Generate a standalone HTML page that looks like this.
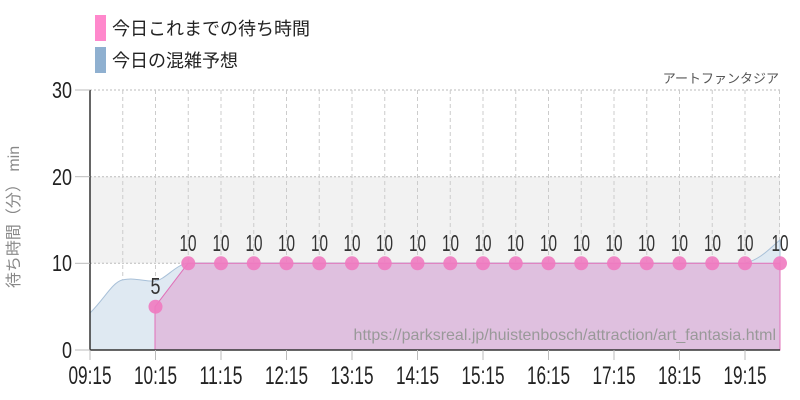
<!DOCTYPE html>
<html><head><meta charset="utf-8"><style>
html,body{margin:0;padding:0;background:#fff;width:800px;height:400px;overflow:hidden}
svg{display:block}
.n{font-family:"Liberation Sans",sans-serif}
.j{font-family:"Liberation Sans","Noto Sans CJK JP",sans-serif}
</style></head><body>
<svg width="800" height="400" viewBox="0 0 800 400" xmlns="http://www.w3.org/2000/svg">
<rect x="95" y="15" width="11" height="26" fill="#ff88cc"/>
<rect x="95" y="47" width="11" height="26" fill="#8fb0d0"/>
<text class="j" x="112" y="35" font-size="18" fill="#222">今日これまでの待ち時間</text>
<text class="j" x="112" y="67" font-size="18" fill="#222">今日の混雑予想</text>
<text class="j" x="779" y="83" font-size="13" fill="#555" text-anchor="end">アートファンタジア</text>
<rect x="90" y="176.7" width="690" height="86.6" fill="#f2f2f2"/>
<g stroke="#bbb" stroke-width="1" stroke-dasharray="2,2">
<line x1="90" y1="90" x2="780" y2="90"/>
<line x1="90" y1="176.7" x2="780" y2="176.7"/>
<line x1="90" y1="263.3" x2="780" y2="263.3"/>
</g>
<g stroke="#ccc" stroke-width="1" stroke-dasharray="4,3">
<line x1="122.75" y1="90" x2="122.75" y2="350"/><line x1="155.5" y1="90" x2="155.5" y2="350"/><line x1="188.25" y1="90" x2="188.25" y2="350"/><line x1="221" y1="90" x2="221" y2="350"/><line x1="253.75" y1="90" x2="253.75" y2="350"/><line x1="286.5" y1="90" x2="286.5" y2="350"/><line x1="319.25" y1="90" x2="319.25" y2="350"/><line x1="352" y1="90" x2="352" y2="350"/><line x1="384.75" y1="90" x2="384.75" y2="350"/><line x1="417.5" y1="90" x2="417.5" y2="350"/><line x1="450.25" y1="90" x2="450.25" y2="350"/><line x1="483" y1="90" x2="483" y2="350"/><line x1="515.75" y1="90" x2="515.75" y2="350"/><line x1="548.5" y1="90" x2="548.5" y2="350"/><line x1="581.25" y1="90" x2="581.25" y2="350"/><line x1="614" y1="90" x2="614" y2="350"/><line x1="646.75" y1="90" x2="646.75" y2="350"/><line x1="679.5" y1="90" x2="679.5" y2="350"/><line x1="712.25" y1="90" x2="712.25" y2="350"/><line x1="745" y1="90" x2="745" y2="350"/><line x1="779.5" y1="90" x2="779.5" y2="350"/>
</g>
<path d="M90,313 C105,298 112,283 122,280 C135,277 145,282 155,281 C165,280 175,265 188,263 L745,263 C760,260 770,248 780,240 L780,350 L90,350 Z" fill="#dfe9f2" stroke="#a8c0d8" stroke-width="1"/>
<path d="M155,306.7 L188,263.3 L780,263.3 L780,350 L155,350 Z" fill="#dfc0df" stroke="#e070b8" stroke-width="1"/>
<line x1="90" y1="90" x2="90" y2="350" stroke="#333" stroke-width="1.5"/>
<line x1="90" y1="350" x2="780" y2="350" stroke="#333" stroke-width="1.5"/>
<g stroke="#bbb"><line x1="75" y1="90" x2="90" y2="90"/><line x1="75" y1="176.7" x2="90" y2="176.7"/><line x1="75" y1="263.3" x2="90" y2="263.3"/><line x1="75" y1="350" x2="90" y2="350"/>
<line x1="90" y1="350" x2="90" y2="360"/><line x1="155.5" y1="350" x2="155.5" y2="360"/><line x1="221" y1="350" x2="221" y2="360"/><line x1="286.5" y1="350" x2="286.5" y2="360"/><line x1="352" y1="350" x2="352" y2="360"/><line x1="417.5" y1="350" x2="417.5" y2="360"/><line x1="483" y1="350" x2="483" y2="360"/><line x1="548.5" y1="350" x2="548.5" y2="360"/><line x1="614" y1="350" x2="614" y2="360"/><line x1="679.5" y1="350" x2="679.5" y2="360"/><line x1="745" y1="350" x2="745" y2="360"/></g>
<g class="n" font-size="23" fill="#222">
<text x="52" y="98" textLength="20" lengthAdjust="spacingAndGlyphs">30</text>
<text x="52" y="185" textLength="20" lengthAdjust="spacingAndGlyphs">20</text>
<text x="52" y="271" textLength="20" lengthAdjust="spacingAndGlyphs">10</text>
<text x="62" y="358" textLength="10" lengthAdjust="spacingAndGlyphs">0</text>
</g>
<text class="j" font-size="16" fill="#888" transform="translate(19,217) rotate(-90)" text-anchor="middle">待ち時間（分） min</text>
<text class="j" x="776" y="340" font-size="16" fill="#999" text-anchor="end">https://parksreal.jp/huistenbosch/attraction/art_fantasia.html</text>
<g fill="#f07ac0" fill-opacity="0.9">
<circle cx="155.5" cy="306.7" r="7"/><circle cx="188.25" cy="263.3" r="7"/><circle cx="221" cy="263.3" r="7"/><circle cx="253.75" cy="263.3" r="7"/><circle cx="286.5" cy="263.3" r="7"/><circle cx="319.25" cy="263.3" r="7"/><circle cx="352" cy="263.3" r="7"/><circle cx="384.75" cy="263.3" r="7"/><circle cx="417.5" cy="263.3" r="7"/><circle cx="450.25" cy="263.3" r="7"/><circle cx="483" cy="263.3" r="7"/><circle cx="515.75" cy="263.3" r="7"/><circle cx="548.5" cy="263.3" r="7"/><circle cx="581.25" cy="263.3" r="7"/><circle cx="614" cy="263.3" r="7"/><circle cx="646.75" cy="263.3" r="7"/><circle cx="679.5" cy="263.3" r="7"/><circle cx="712.25" cy="263.3" r="7"/><circle cx="745" cy="263.3" r="7"/><circle cx="780" cy="263.3" r="7"/>
</g>
<g class="n" font-size="23" fill="#333">
<text x="150.5" y="294" textLength="10" lengthAdjust="spacingAndGlyphs">5</text>
<text x="179.5" y="251" textLength="17" lengthAdjust="spacingAndGlyphs">10</text>
<text x="212.5" y="251" textLength="17" lengthAdjust="spacingAndGlyphs">10</text>
<text x="245.5" y="251" textLength="17" lengthAdjust="spacingAndGlyphs">10</text>
<text x="278" y="251" textLength="17" lengthAdjust="spacingAndGlyphs">10</text>
<text x="311" y="251" textLength="17" lengthAdjust="spacingAndGlyphs">10</text>
<text x="343.5" y="251" textLength="17" lengthAdjust="spacingAndGlyphs">10</text>
<text x="376" y="251" textLength="17" lengthAdjust="spacingAndGlyphs">10</text>
<text x="409" y="251" textLength="17" lengthAdjust="spacingAndGlyphs">10</text>
<text x="442" y="251" textLength="17" lengthAdjust="spacingAndGlyphs">10</text>
<text x="474.5" y="251" textLength="17" lengthAdjust="spacingAndGlyphs">10</text>
<text x="507" y="251" textLength="17" lengthAdjust="spacingAndGlyphs">10</text>
<text x="540" y="251" textLength="17" lengthAdjust="spacingAndGlyphs">10</text>
<text x="573" y="251" textLength="17" lengthAdjust="spacingAndGlyphs">10</text>
<text x="605.5" y="251" textLength="17" lengthAdjust="spacingAndGlyphs">10</text>
<text x="638" y="251" textLength="17" lengthAdjust="spacingAndGlyphs">10</text>
<text x="671" y="251" textLength="17" lengthAdjust="spacingAndGlyphs">10</text>
<text x="704" y="251" textLength="17" lengthAdjust="spacingAndGlyphs">10</text>
<text x="736.5" y="251" textLength="17" lengthAdjust="spacingAndGlyphs">10</text>
<text x="771.5" y="251" textLength="17" lengthAdjust="spacingAndGlyphs">10</text>
</g>
<g class="n" font-size="25" fill="#222">
<text x="68.5" y="384" textLength="43" lengthAdjust="spacingAndGlyphs">09:15</text>
<text x="134" y="384" textLength="43" lengthAdjust="spacingAndGlyphs">10:15</text>
<text x="199.5" y="384" textLength="43" lengthAdjust="spacingAndGlyphs">11:15</text>
<text x="265" y="384" textLength="43" lengthAdjust="spacingAndGlyphs">12:15</text>
<text x="330.5" y="384" textLength="43" lengthAdjust="spacingAndGlyphs">13:15</text>
<text x="396" y="384" textLength="43" lengthAdjust="spacingAndGlyphs">14:15</text>
<text x="461.5" y="384" textLength="43" lengthAdjust="spacingAndGlyphs">15:15</text>
<text x="527" y="384" textLength="43" lengthAdjust="spacingAndGlyphs">16:15</text>
<text x="592.5" y="384" textLength="43" lengthAdjust="spacingAndGlyphs">17:15</text>
<text x="658" y="384" textLength="43" lengthAdjust="spacingAndGlyphs">18:15</text>
<text x="723.5" y="384" textLength="43" lengthAdjust="spacingAndGlyphs">19:15</text>
</g>
</svg>
</body></html>
